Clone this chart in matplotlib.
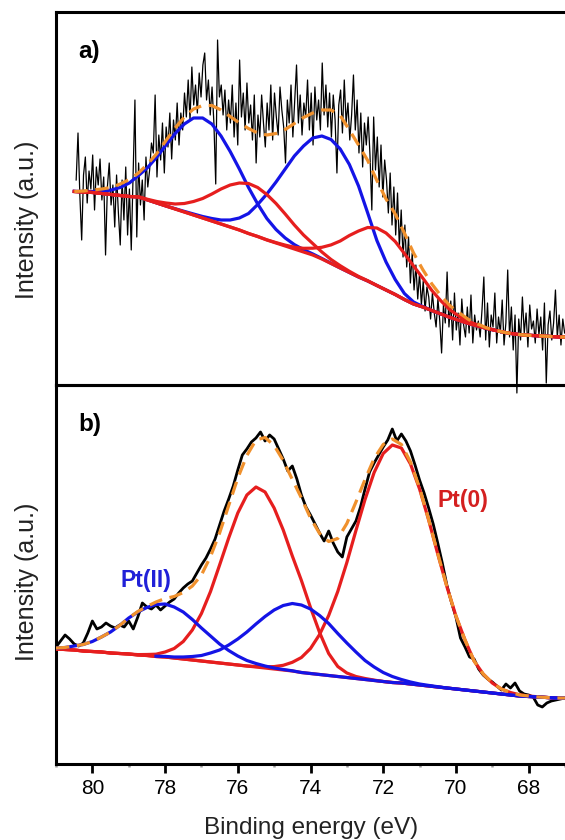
import numpy as np
import matplotlib
matplotlib.use('Agg')
import matplotlib.pyplot as plt

plt.rcParams['font.family'] = ['Liberation Sans', 'DejaVu Sans']

nan = np.nan

# ---------------- panel a) ----------------
# fit grid: 80.5 eV -> 67.0 eV, 0.25 eV step
bg_a = [193.5, 193, 192.5, 191.5, 190.5, 189.5, 188.5,
        188, 185, 182, 179, 176, 173, 170, 167,
        164, 161, 158, 155, 151.5, 148.5, 145, 142,
        139, 136, 133, 130, 126, 121.5, 117, 112.5,
        108, 104, 99.5, 95, 90.5, 85.5, 81, 78,
        74.5, 71, 67.5, 64.5, 61.5, 59, 56.5, 54.5,
        52.5, 51, 50, 49.5, 49, 48.5, 48, 48]
blue1_a = [0.2, 0.5, 1, 2.3, 4.4, 8, 13.5,
           21.5, 32.5, 46, 61, 75.5, 88, 97, 100,
           97, 88, 75.5, 61, 46, 32.5, 21.5, 13.5,
           8, 4.4, 2.3, 1.1, 0.5, 0.2, 0, 0,
           0, 0, 0, 0, 0, 0, 0, 0,
           0, 0, 0, 0, 0, 0, 0, 0,
           0, 0, 0, 0, 0, 0, 0, 0]
blue2_a = [0, 0, 0, 0, 0, 0, 0,
           0, 0, 0, 0, 0.3, 0.6, 1, 1.5,
           2.5, 4, 7, 12, 20, 32, 46, 61,
           77, 93, 106, 117, 123, 124, 119, 108,
           91, 68, 45, 28, 15, 6, 2, 0.5,
           0, 0, 0, 0, 0, 0, 0, 0,
           0, 0, 0, 0, 0, 0, 0, 0]
red1_a = [0, 0, 0, 0, 0, 0, 0,
          0.3, 0.7, 1.5, 3, 5, 8.5, 13.5, 19.5,
          27, 35, 42, 47, 50, 49, 45.5, 39.5,
          32, 24, 17, 11.5, 7, 4, 2.3, 1.2,
          0.6, 0.3, 0, 0, 0, 0, 0, 0,
          0, 0, 0, 0, 0, 0, 0, 0,
          0, 0, 0, 0, 0, 0, 0, 0]
red2_a = [0, 0, 0, 0, 0, 0, 0,
          0, 0, 0, 0, 0, 0, 0, 0,
          0, 0, 0, 0, 0, 0, 0.2, 0.4,
          0.9, 1.8, 3.7, 6.8, 11.7, 18.6, 27, 37,
          46, 53.5, 57.5, 57, 53, 46, 38, 29,
          20, 13, 7.5, 4, 2, 1, 0.4, 0,
          0, 0, 0, 0, 0, 0, 0, 0]
env_a = [193.5, 194, 195, 196, 197.5, 201, 205.5,
         212, 221, 231.5, 244.5, 257, 268, 276, 279.5,
         279.5, 275, 268.5, 262, 256.5, 252, 250, 251.5,
         255.5, 261.5, 267.5, 272, 275, 275, 269.5, 255,
         240, 224.5, 204.5, 186, 171, 152, 132, 115.5,
         101, 89, 79, 72, 65.5, 61, 57, 54.5,
         52.5, 51, 50, 49.5, 49, 48.5, 48, 48]
# measured spectrum a): 80.45 eV -> 67.13 eV
data_a = [205, 252, 190, 145, 210, 228, 182, 214, 196, 230, 175, 218, 200, 226, 185, 208, 130, 198, 222, 180,
          200, 158, 210, 172, 140, 205, 165, 218, 150, 196, 135, 212, 285, 148, 222, 180, 205, 165, 228, 198,
          215, 242, 232, 290, 208, 250, 225, 262, 212, 258, 238, 272, 226, 265, 245, 282, 240, 272, 255, 292,
          268, 305, 265, 318, 280, 300, 272, 312, 288, 320, 332, 285, 305, 270, 298, 262, 201, 345, 288, 300,
          270, 295, 255, 285, 262, 300, 248, 282, 240, 325, 268, 292, 255, 302, 262, 280, 245, 290, 222, 270,
          248, 290, 262, 238, 282, 255, 300, 245, 292, 268, 250, 298, 275, 258, 222, 285, 262, 300, 248, 285,
          320, 262, 290, 250, 282, 268, 305, 255, 292, 240, 298, 265, 285, 255, 322, 270, 300, 258, 292, 248,
          290, 265, 212, 280, 295, 252, 305, 262, 282, 245, 270, 310, 255, 285, 232, 272, 218, 262, 240, 268,
          230, 175, 268, 215, 248, 198, 240, 188, 225, 205, 172, 212, 160, 198, 150, 192, 138, 175, 128, 160,
          118, 148, 102, 132, 95, 120, 86, 112, 80, 104, 74, 98, 88, 66, 92, 72, 58, 86, 64, 32,
          80, 62, 113, 58, 84, 45, 92, 55, 72, 40, 86, 60, 48, 78, 52, 90, 42, 70, 55, 64,
          48, 75, 108, 45, 82, 38, 70, 58, 92, 42, 68, 52, 85, 40, 62, 115, 48, 78, 35, 70,
          -8, 66, 45, 88, 52, 72, 38, 80, 56, 64, 42, 76, 50, 68, 35, 82, 2, 60, 74, 45,
          62, 95, 48, 70, 40, 66, 52]

# ---------------- panel b) ----------------
# fit grid: 81.0 eV -> 67.0 eV, 0.25 eV step
bg_b = [116, 115.5, 115, 114, 113.5, 113, 112, 111.5, 111,
        110, 109.5, 108.5, 108, 107, 106, 105, 104,
        103, 102, 101, 100, 99, 98, 97, 96,
        95, 94, 92.5, 91.5, 90.5, 89.5, 88.5, 87.5,
        86.5, 85.5, 84.5, 83.5, 82.5, 82, 81, 80,
        79, 78, 77, 76, 75, 74, 73, 72,
        71, 70, 69, 68.5, 68, 67.5, 67, 67]
ptII_1_b = [1, 2, 4, 6.5, 10, 15, 21, 28, 36,
            43, 48, 52, 53, 51, 47, 40.5, 33,
            26, 19, 13.5, 9, 5.5, 3.5, 2, 1,
            0.5, 0.2, 0, 0, 0, 0, 0, 0,
            0, 0, 0, 0, 0, 0, 0, 0,
            0, 0, 0, 0, 0, 0, 0, 0,
            0, 0, 0, 0, 0, 0, 0, 0]
ptII_2_b = [nan, nan, nan, nan, nan, nan, nan, nan, nan,
            nan, nan, 0.3, 0.6, 1, 2, 3.5, 5.5,
            9, 13, 19, 26, 34, 43, 51.5, 59,
            64.5, 67.5, 67.5, 64.5, 59, 52, 43, 34.5,
            26.5, 19, 13.5, 9, 6, 3.5, 2, 1,
            0.6, 0.3, 0, 0, 0, 0, 0, 0,
            0, 0, 0, 0, 0, 0, 0, 0]
pt0_1_b = [0, 0, 0, 0, 0, 0, 0, 0, 0,
           0.4, 1, 2.3, 5, 9.5, 17.5, 30, 47.5,
           70.5, 98, 126, 152, 171, 180, 176, 161,
           140, 115, 92, 66, 42, 22, 10, 4.5,
           2, 1, 0.4, 0, 0, 0, 0, 0,
           0, 0, 0, 0, 0, 0, 0, 0,
           0, 0, 0, 0, 0, 0, 0, 0]
pt0_2_b = [0, 0, 0, 0, 0, 0, 0, 0, 0,
           0, 0, 0, 0, 0, 0, 0, 0,
           0, 0, 0, 0, 0, 0.5, 1.2, 2.4,
           4.7, 8.7, 15, 25, 40, 60, 85, 115,
           148, 180, 208, 228, 237.5, 235, 220, 196,
           166, 133, 101.5, 73, 50, 30, 18, 10,
           5, 2.5, 1.2, 0.5, 0.2, 0, 0, 0]
env_b = [117, 117.5, 119, 120.5, 123.5, 128, 133, 139.5, 147,
         153.5, 158.5, 163, 166.5, 168.5, 172.5, 179, 190,
         208.5, 232, 259.5, 287, 309.5, 325, 327.5, 319.5,
         304.5, 285.5, 267, 247, 231.5, 223.5, 226.5, 241.5,
         263, 285.5, 306.5, 320.5, 326, 320.5, 303, 277,
         245.5, 211.5, 178.5, 149, 125, 104, 91, 82,
         76, 72.5, 70, 69, 68, 67.5, 67, 67]
# measured spectrum b): 81.0 eV -> 67.125 eV
data_b = [118, 124, 130, 126, 121, 119, 122, 132,
          144, 136, 138, 142, 139, 137, 140, 138,
          144, 136, 148, 162, 158, 156, 160, 155,
          159, 163, 166, 172, 177, 181, 184, 192,
          200, 207, 216, 226, 240, 254, 266, 279,
          295, 310, 316, 323, 327, 333, 324, 330,
          326, 316, 306, 294, 299, 286, 270, 258,
          250, 241, 232, 224, 234, 222, 213, 208,
          228, 236, 244, 258, 276, 293, 302, 310,
          318, 325, 336, 324, 331, 324, 314, 300,
          285, 272, 257, 241, 222, 202, 180, 163,
          148, 127, 118, 108, 106, 96, 90, 86,
          83, 79, 75, 81, 77, 82, 74, 71,
          70, 68, 60, 58, 62, 64, 65, 66]

x_ticks = [80, 78, 76, 74, 72, 70, 68]
x_minor = [81, 79, 77, 75, 73, 71, 69, 67]

BLUE = '#1414e6'
RED = '#e61e1e'
ORANGE = '#f0912d'
LW = 2.3

W, H = 565, 840
fig = plt.figure(figsize=(W / 100, H / 100), dpi=100)
ax_a = fig.add_axes([56 / W, 1 - 385 / H, (W - 56) / W, (385 - 12) / H])
ax_b = fig.add_axes([56 / W, 1 - 764 / H, (W - 56) / W, (764 - 385) / H])
ax_b.patch.set_visible(False)

# panel a
xa_fit = np.linspace(80.5, 67.0, len(bg_a))
xa_dat = np.linspace(80.45, 67.13, len(data_a))
bga = np.array(bg_a)
ax_a.plot(xa_dat, data_a, color='black', lw=0.9, zorder=2, clip_on=False)
for comp in (blue1_a, blue2_a):
    ax_a.plot(xa_fit, bga + np.array(comp), color=BLUE, lw=LW, zorder=3)
ax_a.plot(xa_fit, bga, color=RED, lw=LW, zorder=4)
for comp in (red1_a, red2_a):
    ax_a.plot(xa_fit, bga + np.array(comp), color=RED, lw=LW, zorder=4)
la, = ax_a.plot(xa_fit, env_a, color=ORANGE, lw=LW, zorder=5)
la.set_dashes([4.2, 2.4])

# panel b
xb_fit = np.linspace(81.0, 67.0, len(bg_b))
xb_dat = np.linspace(81.0, 67.125, len(data_b))
bgb = np.array(bg_b)
ax_b.plot(xb_dat, data_b, color='black', lw=2.0, zorder=2)
ax_b.plot(xb_fit, bgb, color=RED, lw=LW, zorder=3)
for comp in (pt0_1_b, pt0_2_b):
    ax_b.plot(xb_fit, bgb + np.array(comp), color=RED, lw=LW, zorder=3)
for comp in (ptII_1_b, ptII_2_b):
    ax_b.plot(xb_fit, bgb + np.array(comp), color=BLUE, lw=LW, zorder=4)
lb, = ax_b.plot(xb_fit, env_b, color=ORANGE, lw=LW, zorder=5)
lb.set_dashes([4.2, 2.4])

for ax in (ax_a, ax_b):
    ax.set_xlim(81.0, 67.12)
    ax.set_yticks([])
    ax.spines['right'].set_visible(False)
    for s in ('left', 'top', 'bottom'):
        ax.spines[s].set_linewidth(2.2)
ax_a.set_ylim(0, 373)
ax_b.set_ylim(1, 380)
ax_a.set_xticks([])
ax_b.set_xticks(x_ticks)
ax_b.set_xticks(x_minor, minor=True)
ax_b.tick_params(axis='x', which='major', direction='out', length=6.5, width=2,
                 labelsize=15, pad=4)
ax_b.tick_params(axis='x', which='minor', direction='out', length=2.5, width=1.8,
                 color='#999999')

ax_a.text(0.043, 0.894, 'a)', transform=ax_a.transAxes, fontsize=17.5,
          fontweight='bold', ha='left', va='center')
ax_b.text(0.043, 0.897, 'b)', transform=ax_b.transAxes, fontsize=17.5,
          fontweight='bold', ha='left', va='center')
ax_b.text(78.52, 185, 'Pt(II)', color='#2020d8', fontsize=16.5, fontweight='bold',
          ha='center', va='center')
ax_b.text(69.82, 264, 'Pt(0)', color='#d42020', fontsize=16.5, fontweight='bold',
          ha='center', va='center')

fig.text(27.5 / W, 1 - 220 / H, 'Intensity (a.u.)', rotation=90, fontsize=18,
         ha='center', va='center', color='#222222')
fig.text(27.5 / W, 1 - 582 / H, 'Intensity (a.u.)', rotation=90, fontsize=18,
         ha='center', va='center', color='#222222')
fig.text(311 / W, 1 - 828 / H, 'Binding energy (eV)', fontsize=17.5,
         ha='center', va='center', color='#222222')

fig.savefig('out.png', dpi=100)
